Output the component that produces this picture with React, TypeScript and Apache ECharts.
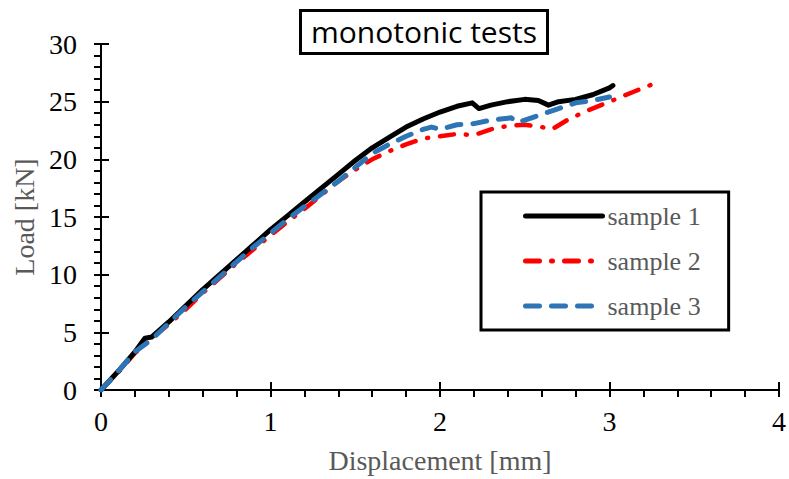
import React, { useEffect, useRef } from "react";
import * as echarts from "echarts";

const titleText = "monotonic tests";
const xAxisName = "Displacement [mm]";
const yAxisName = "Load [kN]";
const seriesNames = ["sample 1", "sample 2", "sample 3"];

const sample1: [number, number][] = [
  [0, 0], [0.1, 1.6], [0.2, 3.3], [0.26, 4.5], [0.3, 4.6], [0.4, 5.9], [0.5, 7.3], [0.6, 8.7],
  [0.7, 10.0], [0.8, 11.3], [0.9, 12.6], [1.0, 13.9], [1.1, 15.1], [1.2, 16.3], [1.3, 17.5],
  [1.4, 18.7], [1.5, 19.9], [1.6, 21.0], [1.7, 21.9], [1.8, 22.8], [1.9, 23.5], [2.0, 24.1],
  [2.1, 24.6], [2.19, 24.9], [2.23, 24.4], [2.3, 24.7], [2.4, 25.0], [2.5, 25.2], [2.58, 25.1],
  [2.64, 24.7], [2.7, 25.0], [2.8, 25.2], [2.9, 25.6], [3.0, 26.2], [3.02, 26.4],
];

const sample2: [number, number][] = [
  [0, 0], [0.1, 1.5], [0.2, 3.2], [0.3, 4.5], [0.4, 5.7], [0.5, 7.0], [0.6, 8.4], [0.7, 9.7],
  [0.8, 11.0], [0.9, 12.2], [1.0, 13.4], [1.1, 14.6], [1.2, 15.7], [1.3, 16.9], [1.4, 18.1],
  [1.5, 19.1], [1.6, 20.0], [1.7, 20.7], [1.8, 21.3], [1.9, 21.8], [2.0, 22.0], [2.1, 22.2],
  [2.2, 22.1], [2.3, 22.6], [2.4, 22.9], [2.5, 23.0], [2.6, 22.8], [2.66, 22.6], [2.75, 23.4],
  [2.85, 24.1], [2.95, 24.7], [3.05, 25.3], [3.15, 25.9], [3.27, 26.6],
];

const sample3: [number, number][] = [
  [0, 0], [0.1, 1.6], [0.2, 3.3], [0.3, 4.4], [0.4, 5.8], [0.5, 7.2], [0.6, 8.5], [0.7, 9.8],
  [0.8, 11.1], [0.9, 12.4], [1.0, 13.6], [1.1, 14.8], [1.2, 15.9], [1.3, 17.0], [1.4, 18.1],
  [1.5, 19.3], [1.6, 20.5], [1.7, 21.3], [1.8, 22.0], [1.9, 22.6], [1.95, 22.8], [2.0, 22.6],
  [2.1, 23.0], [2.2, 23.1], [2.3, 23.4], [2.42, 23.6], [2.46, 23.2], [2.6, 23.9], [2.7, 24.4],
  [2.8, 24.9], [2.9, 25.1], [3.0, 25.4],
];

const serifFont = "'Liberation Serif', 'Times New Roman', serif";

export default function App() {
  const ref = useRef<HTMLDivElement>(null);
  useEffect(() => {
    if (!ref.current) return;
    const chart = echarts.init(ref.current, null, { renderer: "svg" });
    const baseX = {
      type: "value" as const,
      min: 0,
      max: 4,
      interval: 1,
      position: "bottom" as const,
    };
    const baseY = {
      type: "value" as const,
      min: 0,
      max: 30,
      interval: 5,
      position: "left" as const,
    };
    chart.setOption({
      animation: false,
      backgroundColor: "#ffffff",
      title: {
        text: titleText,
        left: 300,
        top: 10,
        padding: [6, 11, 8, 11],
        borderColor: "#000",
        borderWidth: 3,
        textStyle: {
          fontFamily: "'Open Sans', sans-serif",
          fontSize: 30,
          fontWeight: "normal",
          color: "#000",
        },
      },
      legend: {
        orient: "vertical",
        left: 481,
        top: 192,
        padding: [11, 28, 11, 42],
        borderColor: "#000",
        borderWidth: 3,
        itemWidth: 77,
        itemHeight: 20,
        itemGap: 19,
        itemStyle: { opacity: 0 },
        lineStyle: { width: 5 },
        textStyle: { fontFamily: serifFont, fontSize: 26, color: "#595959" },
        data: seriesNames,
      },
      grid: { left: 101, right: 8, top: 44, bottom: 87, containLabel: false },
      xAxis: [
        {
          ...baseX,
          name: xAxisName,
          nameLocation: "middle",
          nameGap: 56,
          nameTextStyle: { fontFamily: serifFont, fontSize: 28, color: "#595959" },
          axisLine: { show: true, lineStyle: { color: "#000", width: 2 } },
          axisTick: { show: true, inside: false, length: 7, lineStyle: { color: "#000", width: 2 } },
          minorTick: { show: true, splitNumber: 5, length: 7, lineStyle: { color: "#000", width: 2 } },
          axisLabel: { fontFamily: serifFont, fontSize: 28, color: "#000", margin: 17 },
          splitLine: { show: false },
        },
        {
          ...baseX,
          axisLine: { show: false },
          axisTick: { show: true, inside: true, length: 8, lineStyle: { color: "#000", width: 2 } },
          axisLabel: { show: false },
          splitLine: { show: false },
        },
      ],
      yAxis: [
        {
          ...baseY,
          name: yAxisName,
          nameLocation: "middle",
          nameGap: 54,
          nameTextStyle: { fontFamily: serifFont, fontSize: 28, color: "#595959" },
          axisLine: { show: true, lineStyle: { color: "#000", width: 2 } },
          axisTick: { show: true, inside: false, length: 7, lineStyle: { color: "#000", width: 2 } },
          minorTick: { show: true, splitNumber: 5, length: 7, lineStyle: { color: "#000", width: 2 } },
          axisLabel: { fontFamily: serifFont, fontSize: 28, color: "#000", margin: 24 },
          splitLine: { show: false },
        },
        {
          ...baseY,
          axisLine: { show: false },
          axisTick: { show: true, inside: true, length: 8, lineStyle: { color: "#000", width: 2 } },
          axisLabel: { show: false },
          splitLine: { show: false },
        },
      ],
      series: [
        {
          name: seriesNames[0],
          type: "line",
          data: sample1,
          showSymbol: false,
          symbol: "none",
          z: 3,
          lineStyle: { color: "#000000", width: 5, type: "solid", cap: "round", join: "round" },
          itemStyle: { color: "#000000" },
        },
        {
          name: seriesNames[1],
          type: "line",
          data: sample2,
          showSymbol: false,
          symbol: "none",
          z: 2,
          lineStyle: { color: "#ff0000", width: 4.5, type: [14, 12, 1, 12], cap: "round", join: "round" },
          itemStyle: { color: "#ff0000" },
        },
        {
          name: seriesNames[2],
          type: "line",
          data: sample3,
          showSymbol: false,
          symbol: "none",
          z: 4,
          lineStyle: { color: "#2e75b6", width: 5, type: [14, 12], cap: "round", join: "round" },
          itemStyle: { color: "#2e75b6" },
        },
      ],
    });
    return () => chart.dispose();
  }, []);
  return <div ref={ref} style={{ width: 789, height: 479, position: "absolute", left: 0, top: 0 }} />;
}
